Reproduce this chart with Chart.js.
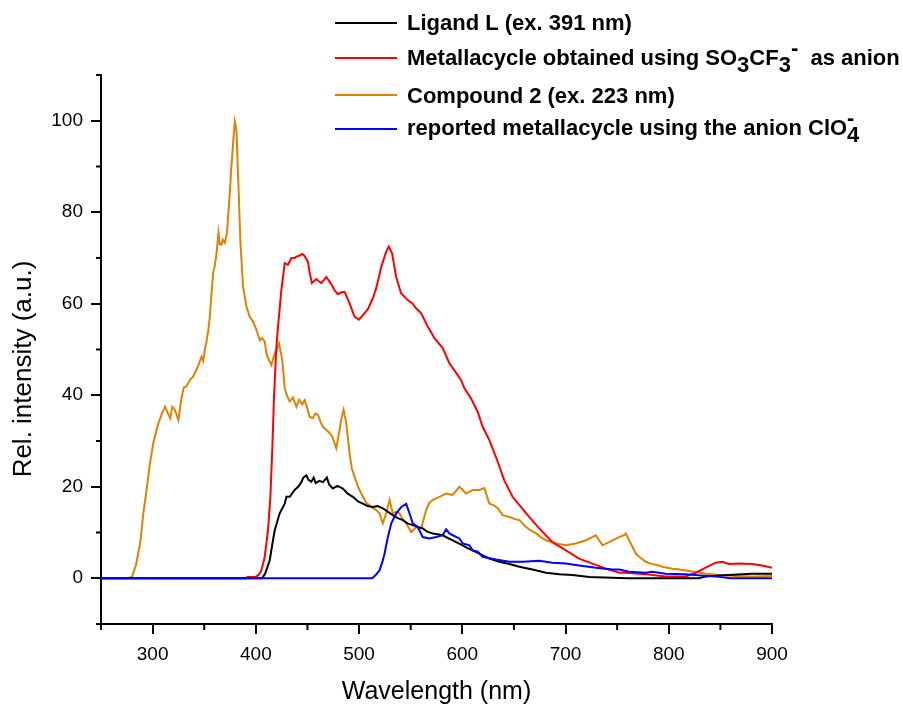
<!DOCTYPE html>
<html>
<head>
<meta charset="utf-8">
<script src="https://cdn.jsdelivr.net/npm/chart.js@4"></script>
<style>
  html, body { margin: 0; padding: 0; background: #fff; }
  #wrap { width: 903px; height: 709px; }
</style>
</head>
<body>
<div id="wrap"><canvas id="spectraChart" width="903" height="709"></canvas></div>
<script>
// Emission spectra
const ligandWl = [250, 406, 409, 413.4, 416.6, 418.3, 423.1, 428, 429.6, 432.8, 437.6, 441, 444.1, 446, 448.9, 451, 453.8, 456, 458, 461.5, 465, 468.8, 471, 474.6, 479, 484.3, 489, 494, 499, 503.7, 508, 513.3, 518, 523, 528, 532.7, 537, 542.4, 547, 552, 557, 561.7, 566, 571.4, 576, 581, 586, 590.7, 595, 600.4, 605, 610, 616.5, 626.2, 635.9, 645.6, 655.3, 668, 681, 694, 706.8, 723, 745, 760, 829, 835.7, 848, 858, 880, 900];
const ligandVal = [0, 0, 1, 3.9, 8.3, 10.5, 14.2, 16.3, 17.8, 17.8, 19.3, 20, 21, 22, 22.5, 21.5, 21.1, 22, 20.8, 21.3, 21, 22, 20.5, 19.6, 20.2, 19.6, 18.5, 17.8, 16.8, 16.3, 15.8, 15.6, 15.8, 15.3, 14.5, 13.8, 13.2, 12.7, 12, 11.6, 11.2, 10.9, 10.2, 9.8, 9.6, 9.4, 8.8, 8.3, 7.8, 7.2, 6.6, 6.1, 5.4, 4.3, 3.6, 3.1, 2.5, 1.9, 1.2, 0.9, 0.7, 0.3, 0.1, 0, 0, 0.4, 0.6, 0.7, 1.0, 1.0];

const triflateWl = [250, 390, 392, 400, 403, 405.4, 408.6, 411.8, 414.1, 416, 417.6, 419.9, 421.5, 424.7, 428, 431.1, 434.4, 437.6, 439.2, 442, 445, 447, 450.5, 452, 454.3, 458.5, 463.4, 468.3, 473.1, 476, 479.5, 483, 486, 490.8, 495.6, 499.8, 503.7, 508.5, 513.3, 516.6, 521.5, 526.3, 528.8, 532, 535.9, 540.7, 547.1, 552, 555.2, 560.2, 566.5, 573, 581, 587.5, 595.6, 598.8, 602.1, 608.5, 614.9, 619.7, 626.2, 632.6, 640.7, 648.7, 656.8, 664.8, 674.5, 687.4, 700.3, 713.2, 726.1, 739, 752, 758.4, 777.7, 784, 797, 816.4, 826, 835.7, 845.4, 851.8, 858.3, 868, 880.8, 890.5, 900];
const triflateVal = [0, 0, 0.3, 0.3, 0.8, 1.7, 4.7, 10.5, 17.8, 28.7, 39.7, 50.6, 55, 63, 68.9, 68.5, 70, 70, 70.3, 70.5, 70.9, 70.5, 69.2, 67, 64.5, 65.4, 64.5, 65.8, 64.3, 63, 62.1, 62.5, 62.6, 60.1, 57.2, 56.5, 57.5, 58.8, 61.2, 63.4, 68.1, 71.4, 72.5, 71, 65.9, 62.3, 60.8, 60, 59, 57.9, 55, 52.5, 50.3, 47, 44.4, 43.3, 41.5, 39.3, 36.4, 33.1, 30.2, 26.5, 21.4, 17.8, 15.6, 13.4, 10.9, 7.9, 6.1, 4.3, 3.2, 2.1, 1.2, 1.2, 0.9, 0.7, 0.4, 0.4, 1.2, 2.3, 3.4, 3.6, 3.1, 3.2, 3.1, 2.8, 2.3];

const compoundWl = [250, 275, 280, 284, 288, 291, 294, 297, 300.6, 305, 309, 312, 314, 317, 319, 321.6, 325, 327, 330, 333, 336, 339, 342.5, 345, 347.4, 349, 351, 352, 354, 355.4, 357, 358.6, 360, 361.9, 363.8, 365, 366.7, 368, 370, 372, 374.8, 376, 378, 379.6, 381.2, 382.8, 385.1, 387.6, 390.9, 394, 397.3, 400.6, 403.8, 406, 408.6, 410.3, 412, 415.1, 418.3, 420, 422.4, 425.6, 428, 430, 432.8, 436, 439.3, 442, 445, 447.3, 450, 452.1, 455, 458, 460.2, 463, 465, 468, 471.5, 474, 477.9, 481.1, 483, 485, 487.6, 490.8, 493, 495.6, 499, 503.7, 507, 511.8, 516, 519.8, 523, 526, 529.5, 532.7, 536, 539.2, 542, 545.6, 550.5, 555.3, 560.2, 565, 568, 571.4, 577.9, 584.3, 590.7, 597.2, 603.7, 610, 616.5, 621.4, 626.2, 630, 634.3, 639.1, 645.6, 650, 655.3, 661.7, 666, 671.4, 676, 681.1, 690.7, 700.4, 710, 719.7, 729.4, 735.8, 745.5, 751.9, 756.8, 758.4, 761.6, 764.8, 768.1, 771.3, 777.7, 781, 790.6, 793.8, 803.5, 806.7, 819.6, 835.7, 848.6, 864.7, 880.8, 900];
const compoundVal = [0, 0, 0.3, 3, 7.7, 14.2, 19, 24.4, 29.5, 33.5, 36, 37.5, 36.5, 35, 37.5, 36.8, 34.6, 38, 41.6, 42, 43.3, 44, 45.5, 47, 48.4, 47.5, 50.6, 51.4, 54.3, 57.2, 62, 66.7, 68, 71, 75.5, 73, 72.9, 74, 73.3, 75.5, 84.2, 89, 95.2, 99.8, 98, 87.8, 73.3, 63.7, 59.4, 57.2, 56.1, 54.3, 52, 52.5, 51.7, 49.2, 48, 46.6, 49.2, 50, 51.4, 47.7, 41.5, 40, 38.6, 39.5, 37.5, 39, 38, 38.9, 37, 35.3, 35, 36, 35.7, 34, 33.1, 32.5, 31.7, 31, 28.4, 32.4, 35, 36.8, 33.9, 27.3, 24, 22.2, 20, 17.8, 16.5, 15.6, 15, 14.2, 12, 14, 17.1, 14.2, 14.5, 14.2, 13, 12, 10.1, 11.2, 10.9, 14.9, 16.5, 17.1, 17.8, 18.5, 18.2, 20, 18.5, 19.3, 19.3, 19.7, 16.3, 16, 15.3, 13.8, 13.4, 13, 12.7, 11.2, 10.5, 9.8, 9, 8.3, 7.6, 7.2, 7.6, 8.3, 9.4, 7.2, 8.3, 9, 9.4, 9.8, 8.3, 6.9, 5.4, 4.7, 3.6, 3.3, 2.8, 2.5, 2.1, 2.0, 1.6, 1.0, 0.7, 0.5, 0.4, 0.5];

const perchlorateWl = [250, 512.8, 516, 519.8, 523, 524.7, 527.9, 531.2, 536, 540.9, 545.6, 548.8, 552, 556.8, 561.7, 568.2, 574.6, 581, 584.3, 587.5, 590.7, 597.2, 600.4, 606.9, 610, 614.9, 619.7, 632.6, 645.6, 658.5, 674.5, 687.4, 700.4, 713.2, 729.4, 745.5, 752, 761.6, 777.7, 784, 797, 816, 848.6, 860, 900];
const perchlorateVal = [0, 0, 0.7, 1.7, 3.9, 5.4, 9, 12, 14.2, 15.6, 16.3, 14.2, 12, 11.2, 9, 8.7, 9, 9.4, 10.7, 9.8, 9.4, 8.7, 7.6, 7.2, 6.1, 5.8, 4.7, 4.1, 3.6, 3.6, 3.8, 3.4, 3.2, 2.8, 2.3, 1.9, 1.9, 1.4, 1.2, 1.4, 1.0, 0.9, 0.3, 0, 0];

const seriesColors = ["#000000", "#ff0000", "#e08200", "#0000ff"];
const xTickLabels = [300, 400, 500, 600, 700, 800, 900];
const yTickLabels = [0, 20, 40, 60, 80, 100];

const FONT = "Arial, 'Liberation Sans', sans-serif";

function toPoints(xs, ys) {
  return xs.map((x, i) => ({ x: x, y: ys[i] }));
}

// legend entries, with sub/superscripts as separate pieces
const legendRows = [
  [{ t: "Ligand L (ex. 391 nm)" }],
  [{ t: "Metallacycle obtained using SO" }, { t: "3", dy: 7 }, { t: "CF" }, { t: "3", dy: 7 }, { t: "-", dy: -10 }, { t: "  as anion" }],
  [{ t: "Compound 2 (ex. 223 nm)" }],
  [{ t: "reported metallacycle using the anion ClO" }, { t: "4", dy: 7, stay: true }, { t: "-", dy: -10 }]
];

// minor ticks, axis titles and the legend
const decorPlugin = {
  id: "decor",
  afterDraw(chart) {
    const ctx = chart.ctx;
    const xs = chart.scales.x, ys = chart.scales.y;
    const area = chart.chartArea;
    ctx.save();
    ctx.strokeStyle = "#000";
    ctx.lineWidth = 2;
    for (let v = 250; v <= 900; v += 100) {
      const px = xs.getPixelForValue(v);
      ctx.beginPath();
      ctx.moveTo(px, area.bottom);
      ctx.lineTo(px, area.bottom + 6);
      ctx.stroke();
    }
    for (let v = -10; v <= 110; v += 20) {
      const py = ys.getPixelForValue(v);
      ctx.beginPath();
      ctx.moveTo(area.left, py);
      ctx.lineTo(area.left - 5, py);
      ctx.stroke();
    }

    // axis titles
    ctx.fillStyle = "#000";
    ctx.textAlign = "center";
    ctx.textBaseline = "middle";
    ctx.font = "25px " + FONT;
    ctx.fillText("Wavelength (nm)", (area.left + area.right) / 2, 692);
    ctx.save();
    ctx.translate(24, 369);
    ctx.rotate(-Math.PI / 2);
    ctx.font = "26px " + FONT;
    ctx.fillText("Rel. intensity (a.u.)", 0, 0);
    ctx.restore();

    // legend
    const lineY = [23, 58, 95, 129];
    const baseY = [30, 65, 103, 135];
    ctx.font = "bold 22px " + FONT;
    ctx.textAlign = "left";
    ctx.textBaseline = "alphabetic";
    legendRows.forEach((parts, i) => {
      ctx.strokeStyle = seriesColors[i];
      ctx.beginPath();
      ctx.moveTo(335, lineY[i]);
      ctx.lineTo(397, lineY[i]);
      ctx.stroke();
      let x = 407;
      parts.forEach(p => {
        ctx.fillText(p.t, x, baseY[i] + (p.dy || 0));
        if (!p.stay) x += ctx.measureText(p.t).width;
      });
    });
    ctx.restore();
  }
};

const ctx = document.getElementById("spectraChart").getContext("2d");

new Chart(ctx, {
  type: "line",
  data: {
    datasets: [
      { label: "Ligand L (ex. 391 nm)", data: toPoints(ligandWl, ligandVal), borderColor: seriesColors[0], order: 1 },
      { label: "Metallacycle obtained using SO3CF3- as anion", data: toPoints(triflateWl, triflateVal), borderColor: seriesColors[1], order: 2 },
      { label: "Compound 2 (ex. 223 nm)", data: toPoints(compoundWl, compoundVal), borderColor: seriesColors[2], order: 3 },
      { label: "reported metallacycle using the anion ClO4-", data: toPoints(perchlorateWl, perchlorateVal), borderColor: seriesColors[3], order: 0 }
    ]
  },
  options: {
    responsive: false,
    animation: false,
    layout: { padding: { left: 0, right: 131, top: 75, bottom: 0 } },
    elements: {
      line: { borderWidth: 2, tension: 0 },
      point: { radius: 0 }
    },
    plugins: {
      legend: { display: false },
      tooltip: { enabled: false }
    },
    scales: {
      x: {
        type: "linear",
        min: 250,
        max: 900,
        afterFit: (s) => { s.height = 85; },
        border: { display: true, color: "#000", width: 2 },
        grid: {
          drawOnChartArea: false,
          tickLength: 10,
          lineWidth: 2,
          tickColor: (c) => (c.tick && xTickLabels.includes(c.tick.value) ? "#000" : "rgba(0,0,0,0)")
        },
        ticks: {
          stepSize: 50,
          color: "#000",
          font: { family: FONT, size: 19 },
          padding: 9,
          maxRotation: 0,
          autoSkip: false,
          callback: (v) => (xTickLabels.includes(v) ? String(v) : "")
        }
      },
      y: {
        min: -10,
        max: 110,
        afterFit: (s) => { s.width = 101; },
        border: { display: true, color: "#000", width: 2 },
        grid: {
          drawOnChartArea: false,
          tickLength: 10,
          lineWidth: 2,
          tickColor: (c) => (c.tick && yTickLabels.includes(c.tick.value) ? "#000" : "rgba(0,0,0,0)")
        },
        ticks: {
          stepSize: 10,
          color: "#000",
          font: { family: FONT, size: 19 },
          padding: 8,
          autoSkip: false,
          callback: (v) => (yTickLabels.includes(v) ? String(v) : "")
        }
      }
    }
  },
  plugins: [decorPlugin]
});
</script>
</body>
</html>
